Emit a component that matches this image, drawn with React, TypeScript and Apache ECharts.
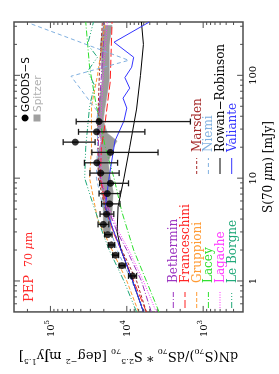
import React, { useEffect, useRef } from 'react';
import * as echarts from 'echarts';

const X_MIN = 0.5;
const X_MAX = 330;
const Y_MIN = 300;
const Y_MAX = 300000;

const xMajorTicks = [1, 10, 100];
const xMinorTicks = [0.6, 0.7, 0.8, 0.9, 2, 3, 4, 5, 6, 7, 8, 9, 20, 30, 40, 50, 60, 70, 80, 90, 200, 300];
const yMajorTicks = [1000, 10000, 100000];
const yMinorTicks = [400, 500, 600, 700, 800, 900, 2000, 3000, 4000, 5000, 6000, 7000, 8000, 9000,
  20000, 30000, 40000, 50000, 60000, 70000, 80000, 90000, 200000];

// GOODS-S measured counts
const goodsS = [1.12, 1.41, 1.78, 2.24, 2.82, 3.55, 4.47, 5.62, 7.08, 8.91, 11.2, 14.1, 17.8, 22.4, 28.2, 35.5];
const goodsY = [8400, 11600, 14100, 16000, 17700, 20300, 18400, 16800, 18000, 16400, 22000, 24800, 16400, 47400, 25000, 23100];
const goodsHigh = [9500, 12600, 15300, 17500, 19500, 23800, 22400, 21400, 23100, 22700, 30400, 35900, 28700, 68100, 42900, 46000];
const goodsLow = [7450, 10500, 12800, 14400, 15600, 17200, 14800, 12300, 12200, 9500, 12600, 13200, 3900, 26000, 5800, 1470];

// Spitzer band
const spitzerS = [3.0, 4.7, 7.4, 10.2, 14.2, 19.7, 23, 27.4, 36.6, 47.5, 66, 91, 142, 197, 306];
const spitzerHigh = [20300, 20300, 20900, 22900, 24300, 22900, 21500, 23600, 24900, 23500, 22200, 20900, 21500, 22200, 20300];
const spitzerLow = [16500, 15600, 15100, 16500, 17500, 15100, 13400, 18000, 20300, 19400, 18000, 17000, 17000, 17000, 15600];

// Models
const betherminS = [0.5, 1, 2, 3, 5, 10, 20, 50, 100, 200, 330];
const betherminY = [4780, 6430, 10000, 13400, 17500, 22200, 23600, 22900, 21500, 20300, 19700];
const franceschiniS = [0.5, 1, 2, 3, 5, 10, 20, 30, 86, 330];
const franceschiniY = [5540, 8130, 11900, 15100, 18600, 22200, 21500, 19700, 16500, 15600];
const gruppioniS = [0.5, 1, 2, 4, 10, 20, 50, 100, 330];
const gruppioniY = [7020, 10000, 15600, 24200, 30700, 29000, 29000, 24200, 19100];
const laceyS = [0.5, 1, 2, 4.7, 10, 20, 50, 120, 330];
const laceyY = [3780, 5540, 8130, 11600, 14700, 19100, 25000, 30700, 34500];
const lagacheS = [0.5, 1, 2, 3, 5, 10, 30, 100, 330];
const lagacheY = [4120, 6060, 9430, 12700, 17000, 21500, 22200, 20300, 18000];
const leBorgneS = [0.5, 1, 2, 3, 6.6, 10, 20, 50, 80, 110, 150, 200, 330];
const leBorgneY = [7450, 10900, 17000, 20900, 29800, 35600, 34500, 30700, 26500, 32600, 24200, 32600, 27300];
const marsdenS = [0.5, 1, 2, 3, 5, 10, 30, 100, 330];
const marsdenY = [5540, 7450, 11600, 14700, 19100, 23600, 24200, 22900, 20900];
const niemiS = [0.5, 1, 2, 5, 10, 20, 44.5, 98, 140, 317];
const niemiY = [5870, 8630, 13400, 20300, 25000, 24200, 24200, 53800, 9430, 180000];
const rowanS = [0.5, 1, 2, 3, 5.3, 10, 20, 47, 100, 200, 330];
const rowanY = [6060, 8380, 11900, 13400, 13000, 10900, 9160, 7450, 6620, 6060, 6430];
const valianteS = [0.5, 1, 2, 3, 5.3, 10.3, 23, 36, 48, 60, 75, 95, 120, 150, 210, 330];
const valianteY = [6060, 8380, 11900, 14700, 19100, 17000, 14300, 10900, 10000, 11200, 9160, 10600, 8630, 8130, 14700, 5070];

const SERIF = '"DejaVu Serif", serif';
const SANS = '"DejaVu Sans", sans-serif';

const models = [
  { name: 'Bethermin', s: betherminS, y: betherminY, color: '#9a32c0', dash: [6, 2, 1, 2], col: 0, row: 0 },
  { name: 'Franceschini', s: franceschiniS, y: franceschiniY, color: '#ff2020', dash: [8, 3], col: 0, row: 1 },
  { name: 'Gruppioni', s: gruppioniS, y: gruppioniY, color: '#ff9a33', dash: [4, 2], col: 0, row: 2 },
  { name: 'Lacey', s: laceyS, y: laceyY, color: '#2ee02e', dash: [6, 2, 1, 2], col: 0, row: 3 },
  { name: 'Lagache', s: lagacheS, y: lagacheY, color: '#ff33ff', dash: [1, 1.5], col: 0, row: 4 },
  { name: 'Le Borgne', s: leBorgneS, y: leBorgneY, color: '#1fa878', dash: [6, 2, 1, 2, 1, 2, 1, 2], col: 0, row: 5 },
  { name: 'Marsden', s: marsdenS, y: marsdenY, color: '#a52a2a', dash: [3, 2], col: 1, row: 2 },
  { name: 'Niemi', s: niemiS, y: niemiY, color: '#80b0e0', dash: [4, 3], col: 1, row: 3 },
  { name: 'Rowan\u2212Robinson', s: rowanS, y: rowanY, color: '#000000', dash: 'solid', col: 1, row: 4 },
  { name: 'Valiante', s: valianteS, y: valianteY, color: '#3535ff', dash: 'solid', col: 1, row: 5 },
];

const isPow10 = (v: number) => {
  const lg = Math.log10(v);
  return Math.abs(lg - Math.round(lg)) < 1e-6;
};

function buildOption() {
  const rowY = [173.3, 185, 196.7, 208.4, 220, 231.7];
  const colSample = [[66, 82], [200, 216]];
  const colText = [91, 222];

  const graphic: any[] = [
    { type: 'text', x: 72, y: 28, style: { text: 'PEP', fill: '#ff2a2a', font: `13px ${SERIF}`, verticalAlign: 'middle' } },
    {
      type: 'text', x: 107, y: 28,
      style: {
        text: '{a|70 }{b|\u03bc}{a|m}', verticalAlign: 'middle',
        rich: {
          a: { fill: '#ff2a2a', fontFamily: SERIF, fontSize: 11 },
          b: { fill: '#ff2a2a', fontFamily: SERIF, fontSize: 11, fontStyle: 'italic' },
        },
      },
    },
    { type: 'circle', shape: { cx: 256, cy: 25, r: 3.5 }, style: { fill: '#000' } },
    { type: 'text', x: 262, y: 25, style: { text: 'GOODS\u2212S', fill: '#000', font: `10.5px ${SANS}`, verticalAlign: 'middle' } },
    { type: 'rect', shape: { x: 252.5, y: 33.5, width: 7, height: 7 }, style: { fill: '#a0a0a0' } },
    { type: 'text', x: 262, y: 37, style: { text: 'Spitzer', fill: '#b0b0b0', font: `10.5px ${SANS}`, verticalAlign: 'middle' } },
  ];
  models.forEach((m) => {
    const y = rowY[m.row];
    const [x1, x2] = colSample[m.col];
    graphic.push({
      type: 'line', shape: { x1, y1: y, x2, y2: y },
      style: { stroke: m.color, lineWidth: 1, lineDash: m.dash === 'solid' ? null : m.dash },
    });
    graphic.push({
      type: 'text', x: colText[m.col], y,
      style: { text: m.name, fill: m.color, font: `12px ${SERIF}`, verticalAlign: 'middle' },
    });
  });

  const tickSeries = {
    type: 'custom',
    coordinateSystem: 'cartesian2d',
    silent: true,
    z: 10,
    data: [[1, 1000]],
    renderItem: (params: any, api: any) => {
      const cs = params.coordSys;
      const children: any[] = [];
      const st = { stroke: '#4d4d4d', lineWidth: 1 };
      const addX = (v: number, len: number) => {
        const px = api.coord([v, Y_MIN])[0];
        children.push({ type: 'line', shape: { x1: px, y1: cs.y + cs.height, x2: px, y2: cs.y + cs.height - len }, style: st });
        children.push({ type: 'line', shape: { x1: px, y1: cs.y, x2: px, y2: cs.y + len }, style: st });
      };
      const addY = (v: number, len: number) => {
        const py = api.coord([X_MIN, v])[1];
        children.push({ type: 'line', shape: { x1: cs.x, y1: py, x2: cs.x + len, y2: py }, style: st });
        children.push({ type: 'line', shape: { x1: cs.x + cs.width, y1: py, x2: cs.x + cs.width - len, y2: py }, style: st });
      };
      xMajorTicks.forEach((v) => addX(v, 6));
      xMinorTicks.forEach((v) => addX(v, 3));
      yMajorTicks.forEach((v) => addY(v, 6));
      yMinorTicks.forEach((v) => addY(v, 3));
      return { type: 'group', children };
    },
  };

  const bandSeries = {
    type: 'custom',
    coordinateSystem: 'cartesian2d',
    silent: true,
    z: 2,
    data: [[spitzerS[0], spitzerHigh[0]]],
    renderItem: (params: any, api: any) => {
      const upper = spitzerS.map((s, i) => api.coord([s, spitzerHigh[i]]));
      const lower = spitzerS.map((s, i) => api.coord([s, spitzerLow[i]])).reverse();
      return {
        type: 'polygon',
        shape: { points: upper.concat(lower) },
        style: { fill: '#9a9a9a', stroke: '#9a9a9a', lineWidth: 0.5 },
      };
    },
  };

  const modelSeries = models.map((m) => ({
    type: 'line',
    name: m.name,
    data: m.s.map((s, i) => [s, m.y[i]]),
    showSymbol: false,
    symbol: 'none',
    silent: true,
    z: 3,
    lineStyle: { color: m.color, width: 1, type: m.dash },
  }));

  const errSeries = {
    type: 'custom',
    coordinateSystem: 'cartesian2d',
    silent: true,
    z: 4,
    encode: { x: 0, y: [1, 2] },
    data: goodsS.map((s, i) => [s, goodsLow[i], goodsHigh[i]]),
    renderItem: (params: any, api: any) => {
      const s = api.value(0);
      const lo = api.coord([s, api.value(1)]);
      const hi = api.coord([s, api.value(2)]);
      const w = 3;
      const st = { stroke: '#1a1a1a', lineWidth: 1.3 };
      return {
        type: 'group',
        children: [
          { type: 'line', shape: { x1: lo[0], y1: lo[1], x2: hi[0], y2: hi[1] }, style: st },
          { type: 'line', shape: { x1: lo[0] - w, y1: lo[1], x2: lo[0] + w, y2: lo[1] }, style: st },
          { type: 'line', shape: { x1: hi[0] - w, y1: hi[1], x2: hi[0] + w, y2: hi[1] }, style: st },
        ],
      };
    },
  };

  const pointSeries = {
    type: 'scatter',
    silent: true,
    z: 5,
    symbol: 'circle',
    symbolSize: 7,
    itemStyle: { color: '#000' },
    data: goodsS.map((s, i) => [s, goodsY[i]]),
  };

  return {
    animation: false,
    backgroundColor: '#ffffff',
    grid: { left: 56, right: 22, top: 14, bottom: 31, show: true, borderColor: '#4d4d4d', borderWidth: 1.5, backgroundColor: 'transparent' },
    xAxis: {
      type: 'log', logBase: 10, min: X_MIN, max: X_MAX,
      axisLine: { show: false }, axisTick: { show: false }, splitLine: { show: false },
      minorTick: { show: false }, minorSplitLine: { show: false },
      axisLabel: {
        margin: 4, color: '#000', fontFamily: SERIF, fontSize: 10,
        showMinLabel: false, showMaxLabel: false,
        formatter: (v: number) => (isPow10(v) ? String(Math.round(v)) : ''),
      },
      name: '{n|S(70 }{i|\u03bc}{n|m) [mJy]}',
      nameLocation: 'middle', nameGap: 14,
      nameTextStyle: {
        rich: {
          n: { fontFamily: SERIF, fontSize: 12, color: '#000' },
          i: { fontFamily: SERIF, fontSize: 12, color: '#000', fontStyle: 'italic' },
        },
      },
    },
    yAxis: {
      type: 'log', logBase: 10, min: Y_MIN, max: Y_MAX,
      axisLine: { show: false }, axisTick: { show: false }, splitLine: { show: false },
      minorTick: { show: false }, minorSplitLine: { show: false },
      axisLabel: {
        margin: 8, color: '#000',
        showMinLabel: false, showMaxLabel: false,
        formatter: (v: number) => (isPow10(v) ? `{n|10}{sup|${Math.round(Math.log10(v))}}` : ''),
        rich: {
          n: { fontFamily: SERIF, fontSize: 10, color: '#000', lineHeight: 14 },
          sup: { fontFamily: SERIF, fontSize: 7, color: '#000', verticalAlign: 'top' },
        },
      },
      name: '{n|dN(S}{sub|70}{n|)/dS}{sub|70}{n| * S}{sup|2.5}{sub|70}{n| [deg}{sup|\u22122}{n| mJy}{sup|1.5}{n|]}',
      nameLocation: 'middle', nameRotate: 90, nameGap: 32,
      nameTextStyle: {
        rich: {
          n: { fontFamily: SERIF, fontSize: 13, color: '#000', lineHeight: 18 },
          sub: { fontFamily: SERIF, fontSize: 8, color: '#000', verticalAlign: 'bottom' },
          sup: { fontFamily: SERIF, fontSize: 8, color: '#000', verticalAlign: 'top' },
        },
      },
    },
    graphic,
    series: [bandSeries, ...modelSeries, errSeries, pointSeries, tickSeries],
  };
}

export default function App() {
  const ref = useRef<HTMLDivElement>(null);
  useEffect(() => {
    if (!ref.current) return;
    const chart = echarts.init(ref.current, undefined, { renderer: 'svg' });
    chart.setOption(buildOption() as any);
    return () => chart.dispose();
  }, []);
  return (
    <div
      ref={ref}
      style={{
        position: 'fixed',
        left: 0,
        top: 0,
        width: 374,
        height: 279,
        transformOrigin: '0 0',
        transform: 'translateY(374px) rotate(-90deg)',
        background: '#fff',
      }}
    />
  );
}
